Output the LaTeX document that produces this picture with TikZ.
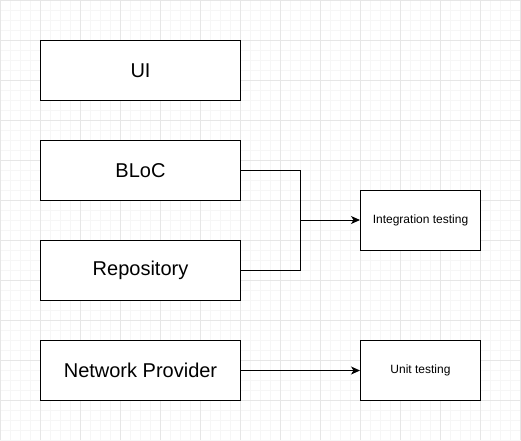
\documentclass[tikz,border=0pt]{standalone}
\usepackage{fontspec}
\setmainfont{Liberation Sans}
\usetikzlibrary{arrows.meta}
\definecolor{gridminor}{HTML}{F6F6F6}
\definecolor{gridmajor}{HTML}{E6E6E6}
\tikzset{
  layer/.style={draw=black, fill=white, line width=1pt, minimum width=200pt, minimum height=60pt, inner sep=0pt, font=\fontsize{20pt}{24pt}\selectfont, anchor=north west},
  testbox/.style={draw=black, fill=white, line width=1pt, minimum width=120pt, minimum height=60pt, inner sep=0pt, font=\fontsize{12pt}{14pt}\selectfont, anchor=north west},
  conn/.style={draw=black, line width=1pt},
  arr/.style={conn, -{Stealth[length=9pt, width=8pt, inset=2.5pt]}},
}
\begin{document}
\begin{tikzpicture}[x=1pt, y=-1pt]
\useasboundingbox (0,0) rectangle (521,440);
\fill[white] (0,0) rectangle (521,440);
% minor grid
\foreach \i in {0,10,...,520} {\draw[gridminor, line width=1pt] (\i,0) -- (\i,440);}
\foreach \j in {0,10,...,440} {\draw[gridminor, line width=1pt] (0,\j) -- (521,\j);}
% major grid
\foreach \i in {0,40,...,520} {\draw[gridmajor, line width=1pt] (\i,0) -- (\i,440);}
\foreach \j in {0,40,...,400} {\draw[gridmajor, line width=1pt] (0,\j) -- (521,\j);}

\node[layer] (ui) at (40,40) {UI};
\node[layer] (bloc) at (40,140) {BLoC};
\node[layer] (repo) at (40,240) {Repository};
\node[layer] (net) at (40,340) {Network Provider};
\node[testbox] (integ) at (360,190) {Integration testing};
\node[testbox] (unit) at (360,340) {Unit testing};

\coordinate (join) at (300,220);
\draw[conn] (bloc.east) -| (join);
\draw[conn] (repo.east) -| (join);
\draw[arr] (join) -- (join -| integ.west);
\draw[arr] (net.east) -- (unit.west);
\end{tikzpicture}
\end{document}
